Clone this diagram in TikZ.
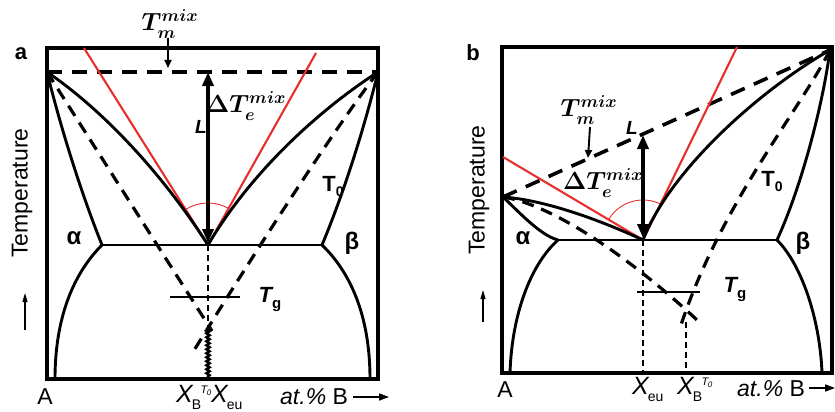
\documentclass[tikz,border=0pt]{standalone}
\usepackage{fontspec}
\setmainfont{Liberation Sans}
\usetikzlibrary{arrows.meta,decorations.pathmorphing,calc}
\definecolor{phred}{RGB}{232,45,45}
\newcommand{\setfs}[1]{\fontsize{#1}{#1}\selectfont}
\newcommand{\XBT}{{\itshape X}\kern-1pt\raisebox{-7pt}{\setfs{14}B}\kern-0.5pt\raisebox{9pt}{\setfs{11}\itshape T\kern-0.5pt\raisebox{-2pt}{\setfs{8}0}}}
\newcommand{\Xeu}{{\itshape X}\kern-1pt\raisebox{-7pt}{\setfs{14}eu}}
\begin{document}
\begin{tikzpicture}[x=1pt,y=-1pt,
  frame/.style={line width=3.6pt},
  phase/.style={line width=2.9pt},
  tzero/.style={line width=3.2pt,dash pattern=on 12pt off 8pt},
  melt/.style={line width=3.6pt,dash pattern=on 15pt off 10pt},
  vdash/.style={line width=2.9pt,dash pattern=on 6pt off 4pt},
  wavy/.style={line width=2.6pt,decorate,decoration={snake,amplitude=1.5pt,segment length=4pt}},
  redline/.style={phred,line width=2.1pt},
  redarc/.style={phred,line width=0.9pt},
  bigarrow/.style={line width=3.6pt,{Triangle[length=14pt,width=11pt]}-{Triangle[length=14pt,width=11pt]}},
  smallarrow/.style={line width=1.9pt,-{Triangle[length=8pt,width=7pt]}},
  uparrow/.style={line width=1.3pt,-{Triangle[length=9pt,width=5pt]}},
  lbl/.style={inner sep=0pt},
  sans/.style={lbl,font=\setfs{23}},
  panel/.style={lbl,font=\setfs{22}\bfseries},
  mathlbl/.style={lbl,font=\setfs{24}\boldmath},
  greek/.style={lbl,font=\setfs{24}\bfseries},
  tlbl/.style={lbl,font=\setfs{22}\bfseries},
  letterL/.style={lbl,font=\setfs{19}\bfseries\itshape}
]
\useasboundingbox (0,0) rectangle (835,412);

%================ panel a =================
\coordinate (aTA) at (47,72);
\coordinate (aTB) at (378,72);
\coordinate (aE) at (208,245);
\coordinate (aEL) at (102,245);
\coordinate (aER) at (322,245);
\coordinate (aSL) at (55,379);
\coordinate (aSR) at (370,379);
\coordinate (aRL) at (84,48);
\coordinate (aRR) at (316,53);
\coordinate (aTop) at (208,72);
\coordinate (aArrBot) at (208,243);
\coordinate (aT0L) at (212,331);
\coordinate (aT0R) at (193,352);
\coordinate (aW) at (208,330);
\coordinate (aB) at (208,378);
\coordinate (aTg1) at (170,297);
\coordinate (aTg2) at (240,297);

\draw[frame] (47,48) rectangle (378,379);
\draw[melt] (aTA) -- (aTB);
\draw[redline] (aRL) -- (aE);
\draw[redline] (aRR) -- (aE);
\draw[redarc] ($(aE)+(60.6:42pt)$) arc[start angle=60.6,end angle=122.2,radius=42pt];
\draw[phase] (aTA) .. controls (100,108) and (160,170) .. (aE);
\draw[phase] (aTB) .. controls (322,108) and (252,170) .. (aE);
\draw[phase] (aTA) .. controls (60,125) and (80,190) .. (aEL);
\draw[phase] (aTB) .. controls (365,125) and (345,190) .. (aER);
\draw[phase] (aEL) .. controls (75,272) and (55,315) .. (aSL);
\draw[phase] (aER) .. controls (350,272) and (370,315) .. (aSR);
\draw[phase] (aEL) -- (aER);
\draw[tzero] (aTA) -- (aT0L);
\draw[tzero] (aTB) .. controls (330,135) and (250,260) .. (aT0R);
\draw[vdash] (aE) -- (aW);
\draw[wavy] (aW) -- (aB);
\draw[phase] (aTg1) -- (aTg2);
\draw[bigarrow] (aArrBot) -- (aTop);

\node[panel] (alab) at (21,54) {a};
\node[mathlbl] (aTm) at (170,24) {$T_m^{mix}$};
\coordinate (aTmTip) at (168,68);
\coordinate (aTmTail) at (168,38);
\draw[smallarrow] (aTmTail) -- (aTmTip);
\node[mathlbl] (aDT) at (246,106) {$\Delta T_e^{mix}$};
\node[letterL] (aL) at (201,127) {L};
\node[tlbl] (aT0) at (333,186) {T\raisebox{-5pt}{\setfs{14}0}};
\node[tlbl] (aTg) at (270,300) {\itshape T\raisebox{-6pt}{\setfs{15}\upshape g}};
\node[greek] (aalpha) at (74,238) {α};
\node[greek] (abeta) at (352,243) {β};
\node[sans,rotate=90] (atemp) at (22,193) {Temperature};
\coordinate (aUp1) at (25,330);
\coordinate (aUp2) at (25,293);
\draw[uparrow] (aUp1) -- (aUp2);
\node[sans,anchor=base] (aA) at (45,404) {A};
\node[lbl,font=\setfs{25},anchor=base west] (aXB) at (176,402) {\XBT};
\node[lbl,font=\setfs{25},anchor=base west] (aXeu) at (211,402) {\Xeu};
\node[sans,anchor=base west] (aatB) at (280,404) {{\itshape at.\%} B};
\coordinate (aAxEnd) at (389,397);
\draw[line width=1.6pt,-{Triangle[length=10pt,width=7pt]}] (aatB.east |- aAxEnd) ++(5,0) -- (aAxEnd);

%================ panel b =================
\coordinate (bTA) at (503,197);
\coordinate (bTB) at (830,50);
\coordinate (bE) at (643,240);
\coordinate (bEL) at (558,240);
\coordinate (bER) at (777,240);
\coordinate (bSL) at (510,373);
\coordinate (bSR) at (822,373);
\coordinate (bRL) at (503,157);
\coordinate (bRR) at (737,47);
\coordinate (bTop) at (643,135);
\coordinate (bArrBot) at (643,238);
\coordinate (bT0L) at (697,320);
\coordinate (bT0R) at (680,328);
\coordinate (bEB) at (643,373);
\coordinate (bX1) at (686,322);
\coordinate (bX2) at (686,373);
\coordinate (bTg1) at (637,292);
\coordinate (bTg2) at (700,292);

\draw[frame] (502,47) rectangle (832,373);
\draw[melt] (bTA) -- (bTB);
\draw[redline] (bRL) -- (bE);
\draw[redline] (bRR) -- (bE);
\draw[redarc] ($(bE)+(64.0:40pt)$) arc[start angle=64.0,end angle=149.3,radius=40pt];
\draw[phase] (bTA) .. controls (545,200) and (600,220) .. (bE);
\draw[phase] (bTB) .. controls (760,90) and (670,170) .. (bE);
\draw[phase] (bTA) .. controls (520,213) and (540,235) .. (bEL);
\draw[phase] (bTB) .. controls (822,110) and (800,190) .. (bER);
\draw[phase] (bEL) .. controls (533,262) and (512,310) .. (bSL);
\draw[phase] (bER) .. controls (802,265) and (820,320) .. (bSR);
\draw[phase] (bEL) -- (bER);
\draw[tzero] (bTA) .. controls (555,205) and (635,262) .. (bT0L);
\draw[tzero] (bTB) .. controls (800,110) and (720,205) .. (bT0R);
\draw[vdash] (bE) -- (bEB);
\draw[vdash] (bX1) -- (bX2);
\draw[phase] (bTg1) -- (bTg2);
\draw[bigarrow] (bArrBot) -- (bTop);

\node[panel] (blab) at (473,53) {b};
\node[mathlbl] (bTm) at (589,110) {$T_m^{mix}$};
\coordinate (bTmTail) at (590,127);
\coordinate (bTmTip) at (588,158);
\draw[smallarrow] (bTmTail) -- (bTmTip);
\node[mathlbl] (bDT) at (603,183) {$\Delta T_e^{mix}$};
\node[letterL] (bL) at (632,128) {L};
\node[tlbl] (bT0) at (772,181) {T\raisebox{-5pt}{\setfs{14}0}};
\node[tlbl] (bTg) at (735,290) {\itshape T\raisebox{-6pt}{\setfs{15}\upshape g}};
\node[greek] (balpha) at (523,238) {α};
\node[greek] (bbeta) at (803,243) {β};
\node[sans,rotate=90] (btemp) at (479,190) {Temperature};
\coordinate (bUp1) at (483,322);
\coordinate (bUp2) at (483,290);
\draw[uparrow] (bUp1) -- (bUp2);
\node[sans,anchor=base] (bA) at (505,397) {A};
\node[lbl,font=\setfs{25},anchor=base west] (bXeu) at (632,394) {\Xeu};
\node[lbl,font=\setfs{25},anchor=base west] (bXB) at (677,394) {\XBT};
\node[sans,anchor=base west] (batB) at (737,396) {{\itshape at.\%} B};
\coordinate (bAxEnd) at (835,388);
\draw[line width=1.6pt,-{Triangle[length=10pt,width=7pt]}] (batB.east |- bAxEnd) ++(4,0) -- (bAxEnd);
\end{tikzpicture}
\end{document}
